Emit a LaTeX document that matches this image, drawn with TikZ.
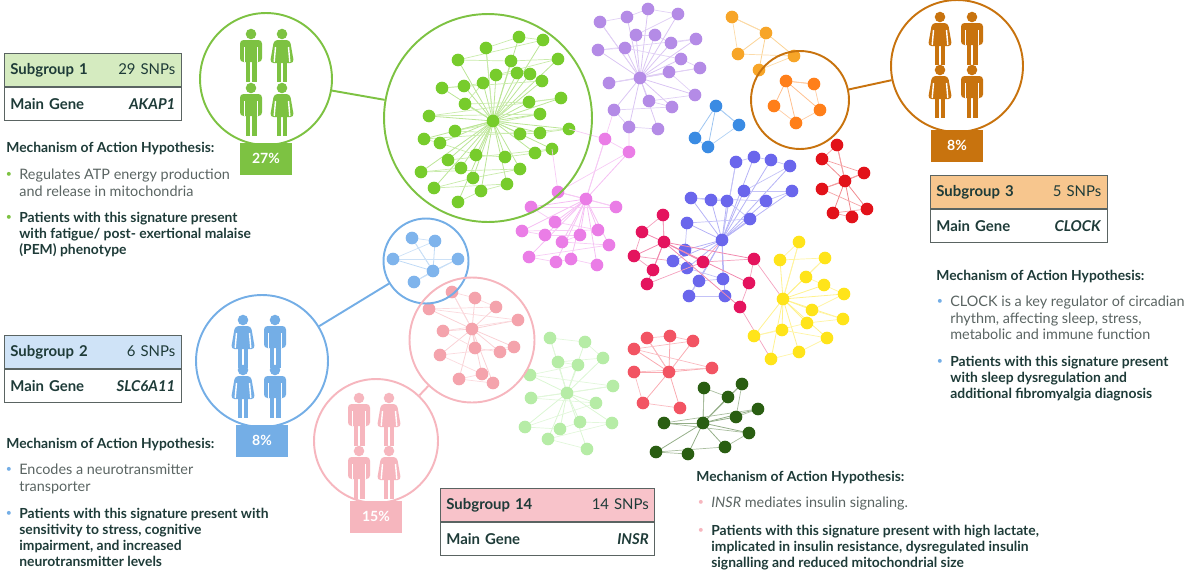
\documentclass[tikz,border=0pt]{standalone}
\usepackage{fontspec}
\setmainfont{Lato}
\usepackage{xcolor}
\usetikzlibrary{positioning}

\definecolor{grn}{HTML}{7DC242}
\definecolor{grnbg}{HTML}{D5EBC0}
\definecolor{blu}{HTML}{74AEE6}
\definecolor{blubg}{HTML}{CFE3F7}
\definecolor{org}{HTML}{C8730E}
\definecolor{orgbg}{HTML}{F7C68E}
\definecolor{pnk}{HTML}{F6B6BE}
\definecolor{pnkbg}{HTML}{F8C3CA}
\definecolor{ink}{HTML}{1E3B38}
\definecolor{gry}{HTML}{5A6462}
% network colours
\definecolor{nGreen}{HTML}{77CC2C}
\definecolor{nPurple}{HTML}{B48BE6}
\definecolor{nOrange}{HTML}{FF7F1A}
\definecolor{nLtOrange}{HTML}{F7A528}
\definecolor{nBlue}{HTML}{3A8BE3}
\definecolor{nMagenta}{HTML}{EA7DE6}
\definecolor{nIndigo}{HTML}{6A66EC}
\definecolor{nCrimson}{HTML}{E4145E}
\definecolor{nRed}{HTML}{E2121A}
\definecolor{nYellow}{HTML}{FFE41A}
\definecolor{nPink}{HTML}{F4A3AC}
\definecolor{nLtGreen}{HTML}{B6ECA6}
\definecolor{nSalmon}{HTML}{F25463}
\definecolor{nDkGreen}{HTML}{2A5E12}
\definecolor{nSkyBlue}{HTML}{7FB4EC}

% network: colour, hub x, hub y, list of x/y
\newcommand\netw[4]{%
  \foreach \x/\y in {#4} \draw[#1!50,line width=0.45pt] (#2,#3) -- (\x,\y);
  \foreach \x/\y [remember=\x as \lx (initially #2), remember=\y as \ly (initially #3)] in {#4}
    \draw[#1!40,line width=0.4pt] (\lx,\ly) -- (\x,\y);
  \foreach \x/\y in {#4} \fill[#1] (\x,\y) circle[radius=3.6pt];
  \fill[#1] (#2,#3) circle[radius=3.6pt];}

\tikzset{
  man/.pic={\fill (0,-20) circle[radius=3pt];
    \fill[rounded corners=2pt] (-11,-14) rectangle (11,8);
    \draw[white,line width=0.8pt] (-6.5,-7) -- (-6.5,8) (6.5,-7) -- (6.5,8);
    \fill (-5.5,5) rectangle (-0.8,28); \fill (0.8,5) rectangle (5.5,28);},
  woman/.pic={\fill (0,-20) circle[radius=3pt];
    \fill[rounded corners=2pt] (-8,-14) -- (8,-14) -- (12,9) -- (-12,9) -- cycle;
    \draw[white,line width=0.8pt] (-6.5,-7) -- (-7.8,8) (6.5,-7) -- (7.8,8);
    \fill (-4.8,8) rectangle (-0.8,28); \fill (0.8,8) rectangle (4.8,28);},
  ring/.style={draw=#1,line width=1.1pt,circle,inner sep=0pt},
  pct/.style={fill=#1,text=white,font=\bfseries\fontsize{8}{9}\selectfont,minimum width=1.05cm,minimum height=0.64cm,anchor=north},
  hdr/.style={fill=#1,draw=gry,line width=0.6pt,text=ink,font=\fontsize{8.5}{10}\selectfont,text width=3.3cm,minimum height=0.66cm,anchor=north west,align=left},
  row/.style={draw=gry,line width=0.6pt,text=ink,font=\fontsize{8.5}{10}\selectfont,text width=3.3cm,minimum height=0.66cm,anchor=north west,align=left},
  ttl/.style={text=ink,font=\bfseries\fontsize{7.9}{9}\selectfont,anchor=west,inner sep=0pt},
  txt/.style={text=gry,font=\fontsize{8.2}{9.3}\selectfont,anchor=north west,align=left,inner sep=0pt},
  btxt/.style={text=ink,font=\bfseries\fontsize{7.9}{9.1}\selectfont,anchor=north west,align=left,inner sep=0pt},
  bul/.style={text=#1,font=\fontsize{6}{7}\selectfont,inner sep=0pt},
}

\begin{document}
\begin{tikzpicture}[x=0.02cm,y=-0.02cm]
\useasboundingbox (0,0) rectangle (1200,582);

% networks
\netw{nGreen}{493}{121}{486/48,519/37,543/40,458/60,511/61,558/59,496/75,517/73,530/74,542/81,442/88,464/86,483/83,465/104,529/102,561/98,429/116,540/114,455/131,520/134,540/133,569/129,424/139,440/143,476/155,505/157,535/153,552/149,448/160,461/168,421/172,520/169,473/178,434/188,507/184,481/191,458/202}
\draw[nMagenta!40] (605,139) -- (614,110) (605,139) -- (569,129) (629,152) -- (629,127) (558,192) -- (552,149);
\netw{nPurple}{640}{78}{600/22,627/17,648/9,678/14,636/35,655/35,671/43,696/39,598/50,625/48,681/59,700/68,609/83,669/72,695/95,649/101,672/107,614/110,629/127,658/129}
\netw{nLtOrange}{766}{33}{732/17,738/54,794/56,759/70}
\netw{nOrange}{786}{81}{814/84,820/110,796/123,774/106}
\netw{nBlue}{716}{106}{739/125,708/147,695/138}
\netw{nMagenta}{586}{199}{605/139,629/152,558/192,616/207,531/207,555/222,598/230,522/231,545/235,580/235,562/242,609/245,529/257,556/262,571/259,597/265}
\draw[nCrimson!40] (664,242) -- (703,262) -- (722,240) (634,256) -- (673,261) (754,259) -- (783,299) (740,307) -- (771,359);
\netw{nIndigo}{722}{240}{736/162,754/157,771/160,790/166,744/191,792/191,766/201,691/198,711/200,727/201,750/219,687/223,685/250,673/261,687/268,723/279,699/281,689/296,725/296}
\netw{nCrimson}{664}{242}{663/215,642/232,634/256,653/270,647/284,703/262,754/259,749/283,740/307}
\netw{nRed}{845}{181}{837/145,822/159,864/173,822/189,867/209,833/213,852/217}
\netw{nYellow}{783}{299}{799/242,780/260,825/258,806/277,824/285,844/294,812/310,843/319,807/323,754/336,782/330,827/338,799/352,771/359}
\netw{nLtGreen}{567}{393}{550/338,585/342,603/358,558/362,578/365,530/375,613/386,531/398,596/403,525/427,560/429,580/422,612/423,548/439,587/449}
\netw{nSalmon}{669}{372}{647/338,670/336,693/341,634/349,712/368,634/372,643/403,680/408}
\netw{nDkGreen}{703}{423}{704/388,728/397,742/384,736/417,758/409,664/423,749/433,725/447,656/452,688/454}
\netw{nPink}{472}{329}{452/292,475/298,496/307,429/309,518/320,443/331,475/348,500/352,514/347,440/355,482/374,459/379,493/383}
\netw{nSkyBlue}{433}{271}{412/238,435/241,393/259,458/259,414/282}

% cluster rings
\node[ring=grn,minimum size=4.16cm] (gc) at (488,118) {};
\node[ring=org,minimum size=1.96cm] (oc) at (800,100) {};
\node[ring=blu,minimum size=1.7cm] (bc) at (426,261) {};
\node[ring=pnk,minimum size=2.5cm] (pc) at (472,340) {};

% people rings
\node[ring=grn,minimum size=2.64cm,fill=white] (gp) at (266,79) {};
\node[ring=org,minimum size=2.64cm,fill=white] (op) at (957,66) {};
\node[ring=blu,minimum size=2.64cm,fill=white] (bp) at (262,361) {};
\node[ring=pnk,minimum size=2.48cm,fill=white] (pp) at (376,441) {};
\draw[grn,line width=1.1pt] (gp) -- (gc);
\draw[org,line width=1.1pt] (oc) -- (op);
\draw[blu,line width=1.1pt] (bp) -- (bc);
\draw[pnk,line width=1.1pt] (pp) -- (pc);

\pic[grn] at (251,54) {man}; \pic[grn] at (282,54) {woman};
\pic[grn] at (251,108) {man}; \pic[grn] at (282,108) {woman};
\pic[org] at (940,37) {woman}; \pic[org] at (972,37) {man};
\pic[org] at (940,90) {woman}; \pic[org] at (972,90) {man};
\pic[blu] at (243,340) {woman}; \pic[blu] at (275,340) {man};
\pic[blu] at (243,390) {woman}; \pic[blu] at (275,390) {man};
\pic[pnk] at (359,418) {man}; \pic[pnk] at (389,418) {woman};
\pic[pnk] at (359,471) {man}; \pic[pnk] at (389,471) {woman};

\node[pct=grn] (gpct) at ([yshift=2pt]gp.south) {27\%};
\node[pct=org] (opct) at ([yshift=2pt]op.south) {8\%};
\node[pct=blu] (bpct) at ([yshift=2pt]bp.south) {8\%};
\node[pct=pnk] (ppct) at ([yshift=2pt]pp.south) {15\%};

% tables
\node[hdr=grnbg] (t1h) at (4,53) {\textbf{Subgroup 1}\hfill 29 SNPs};
\node[row,below=0pt of t1h] (t1r) {\textbf{Main Gene}\hfill \textbf{\textit{AKAP1}}};
\node[hdr=blubg] (t2h) at (4,335) {\textbf{Subgroup 2}\hfill 6 SNPs};
\node[row,below=0pt of t2h] (t2r) {\textbf{Main Gene}\hfill \textbf{\textit{SLC6A11}}};
\node[hdr=orgbg] (t3h) at (930,175) {\textbf{Subgroup 3}\hfill 5 SNPs};
\node[row,below=0pt of t3h] (t3r) {\textbf{Main Gene}\hfill \textbf{\textit{CLOCK}}};
\node[hdr=pnkbg,text width=4.05cm] (t14h) at (440,488) {\textbf{Subgroup 14}\hfill 14 SNPs};
\node[row,text width=4.05cm,below=0pt of t14h] (t14r) {\textbf{Main Gene}\hfill \textbf{\textit{INSR}}};

% hypotheses
\node[ttl] (h1) at (6,148) {Mechanism of Action Hypothesis:};
\node[bul=grn] (h1b1) at (9,175) {\textbullet};
\node[txt] (h1t1) at (19,169) {Regulates ATP energy production\\and release in mitochondria};
\node[bul=grn] (h1b2) at (9,218) {\textbullet};
\node[btxt] (h1t2) at (19,212) {Patients with this signature present\\with fatigue/ post- exertional malaise\\(PEM) phenotype};

\node[ttl] (h2) at (6,444) {Mechanism of Action Hypothesis:};
\node[bul=blu] (h2b1) at (9,470) {\textbullet};
\node[txt] (h2t1) at (19,464) {Encodes a neurotransmitter\\transporter};
\node[bul=blu] (h2b2) at (9,514) {\textbullet};
\node[btxt] (h2t2) at (19,508) {Patients with this signature present with\\sensitivity to stress, cognitive\\impairment, and increased\\neurotransmitter levels};

\node[ttl] (h3) at (936,276) {Mechanism of Action Hypothesis:};
\node[bul=blu] (h3b1) at (940,302) {\textbullet};
\node[txt] (h3t1) at (950,296) {CLOCK is a key regulator of circadian\\rhythm, affecting sleep, stress,\\metabolic and immune function};
\node[bul=blu] (h3b2) at (940,362) {\textbullet};
\node[btxt] (h3t2) at (950,356) {Patients with this signature present\\with sleep dysregulation and\\additional fibromyalgia diagnosis};

\node[ttl] (h14) at (696,477) {Mechanism of Action Hypothesis:};
\node[bul=pnk] (h14b1) at (701,503) {\textbullet};
\node[txt] (h14t1) at (711,497) {\textit{INSR} mediates insulin signaling.};
\node[bul=pnk] (h14b2) at (701,531) {\textbullet};
\node[btxt] (h14t2) at (711,525) {Patients with this signature present with high lactate,\\implicated in insulin resistance, dysregulated insulin\\signalling and reduced mitochondrial size};
\end{tikzpicture}
\end{document}
